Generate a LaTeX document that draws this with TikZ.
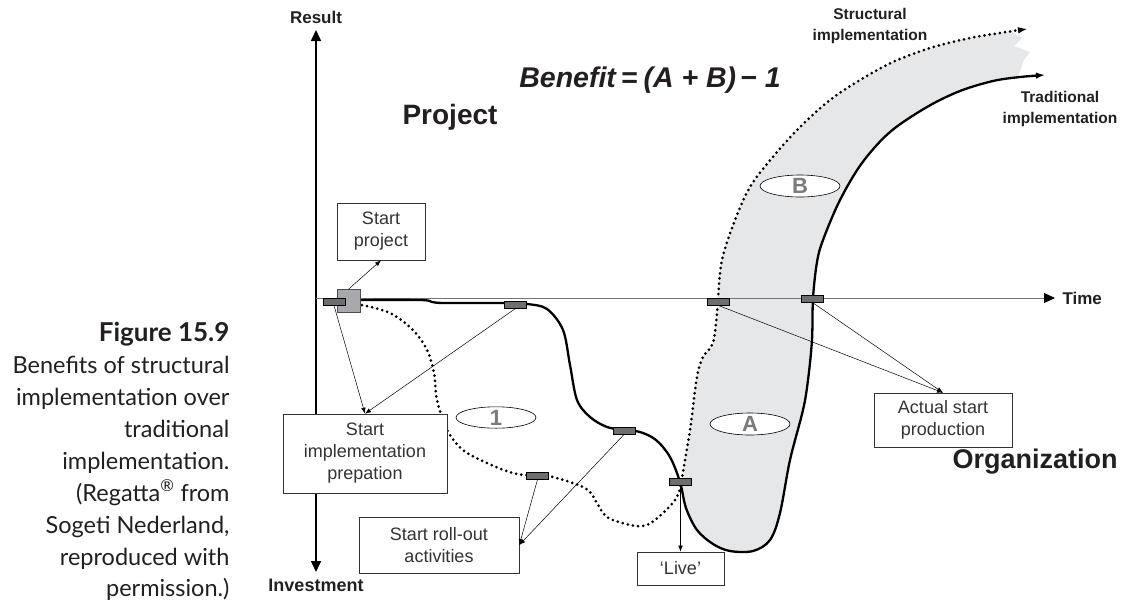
\documentclass[tikz,border=0pt]{standalone}
\usepackage{fontspec}
\setmainfont{Liberation Sans}
\newfontfamily\capfont{Lato}
\usetikzlibrary{arrows.meta,shapes.geometric}
\definecolor{txt}{HTML}{231F20}
\definecolor{boxtxt}{HTML}{333333}
\definecolor{region}{HTML}{E6E7E9}
\definecolor{mark}{HTML}{6D6E70}
\definecolor{sqgray}{HTML}{A7A9AC}
\definecolor{elltxt}{HTML}{7A7A7A}
\tikzset{
  stepbox/.style={draw=black!80, line width=0.6pt, fill=white, align=center, text=boxtxt,
    font=\fontsize{18}{22}\selectfont, inner sep=0pt},
  marker/.style={draw=black, line width=0.5pt, fill=mark, minimum width=22pt, minimum height=7.5pt, inner sep=0pt},
  conn/.style={line width=0.5pt, black, -{Latex[length=6pt,width=4.5pt]}},
  tradline/.style={line width=2.3pt, black, line cap=round},
  structline/.style={line width=3pt, black, line cap=round, dash pattern=on 0pt off 5.2pt},
  ell/.style={draw=black, line width=0.6pt, fill=white, ellipse, minimum width=80pt, minimum height=21pt, inner sep=0pt,
    text=elltxt, font=\fontsize{22}{22}\selectfont\bfseries},
  axlabel/.style={font=\fontsize{17}{17}\selectfont\bfseries, text=txt},
  biglabel/.style={font=\fontsize{28}{28}\selectfont\bfseries, text=txt},
  curvelabel/.style={font=\fontsize{15.5}{21}\selectfont\bfseries, text=txt, align=center},
  caption/.style={font=\capfont\fontsize{23.5}{23.5}\selectfont, text=txt, anchor=base east}
}
\begin{document}
\begin{tikzpicture}[x=1pt,y=-1pt]
\useasboundingbox (0,0) rectangle (1125,600);

% shaded benefit region
\fill[region] (681,482) -- plot[smooth, tension=0.55] coordinates {(682,477) (690,430) (697,377) (703,357) (713,343) (717,313) (718,298) (722,260) (735,220) (750,187) (772,158) (800,127) (830,100) (860,80) (893,62) (930,48) (970,38) (1000,33) (1012,32)}
  -- (1022,38) -- (1014,46) -- (1030,52) -- (1024,60) -- (1018,77)
  -- plot[smooth, tension=0.55] coordinates {(1018,77) (993,81) (960,91) (927,107) (890,132) (862,163) (840,200) (823,240) (817,262) (813,298) (812,340) (808,380) (803,410) (790,460) (780,513) (770,540) (753,551) (730,551) (713,544) (697,530) (686,508) (681,482)} -- cycle;

% axes
\coordinate (ybot) at (316,572);
\coordinate (ytop) at (316,30);
\coordinate (xorg) at (316,298);
\coordinate (xend) at (1055,298);
\draw[line width=1.6pt, black, {Triangle[length=11pt,width=10pt]}-{Triangle[length=11pt,width=10pt]}] (ybot) -- (ytop);
\draw[line width=0.9pt, black!55, -{Triangle[length=11pt,width=10pt,color=black]}] (xorg) -- (xend);

\node[axlabel] (result) at (316,17) {Result};
\node[axlabel, font=\fontsize{18}{18}\selectfont\bfseries] (invest) at (316,585) {Investment};
\node[axlabel, anchor=west] (time) at (1059,298) {Time};

% traditional implementation curve
\draw[tradline, -{Latex[length=9pt,width=6.5pt]}] plot[smooth, tension=0.55] coordinates {(345,300) (420,300) (432,302) (445,303) (504,303) (527,304) (547,309) (563,330) (570,365) (577,400) (590,417) (607,427) (624,430) (640,432) (656,440) (670,457) (680,482) (686,508) (697,530) (713,544) (730,551) (753,551) (770,540) (780,513) (790,460) (803,410) (808,380) (812,340) (813,298) (817,262) (823,240) (840,200) (862,163) (890,132) (927,107) (960,91) (993,81) (1020,77) (1045,75)};

% structural implementation curve
\draw[structline] plot[smooth, tension=0.55] coordinates {(362,305) (390,313) (413,330) (427,350) (434,373) (437,400) (447,430) (463,450) (487,463) (513,473) (537,476) (548,476) (570,482) (588,490) (597,503) (607,517) (630,525) (647,525) (663,513) (677,497) (682,477) (690,430) (697,377) (703,357) (713,343) (717,313) (718,298) (722,260) (735,220) (750,187) (772,158) (800,127) (830,100) (860,80) (893,62) (930,48) (970,38) (1000,33) (1020,30)};
\coordinate (stA) at (1018,30.3);
\coordinate (stB) at (1027,29);
\draw[line width=1pt, -{Latex[length=9pt,width=6.5pt]}] (stA) -- (stB);

% labels
\node[biglabel] (project) at (450,117) {Project};
\node[biglabel, font=\fontsize{27}{27}\selectfont\bfseries] (org) at (1035,462) {Organization};
\node[biglabel, font=\fontsize{28.5}{28.5}\selectfont\bfseries\itshape] (formula) at (650,80) {Benefit\hspace{5pt}=\hspace{6pt}(A + B)\hspace{4pt}−\hspace{8pt}1};
\node[curvelabel] (slabel) at (870,26) {Structural\\implementation};
\node[curvelabel] (tlabel) at (1060,109) {Traditional\\implementation};

% ellipses
\node[ell] (e1) at (496,417.5) {1};
\node[ell, minimum height=22pt] (eA) at (750,424) {A};
\node[ell, minimum height=22pt] (eB) at (800,186) {B};

% start markers
\node[draw=black!70, line width=0.5pt, fill=sqgray, minimum width=23pt, minimum height=23pt, inner sep=0pt] (sq) at (348.5,301) {};
\node[marker] (m0) at (334,301.5) {};
\node[marker] (m1) at (515.5,304.5) {};
\node[marker] (m2) at (624,430.5) {};
\node[marker] (m3) at (537.5,475.5) {};
\node[marker] (m4) at (680.5,481.5) {};
\node[marker] (m5) at (718.5,301.5) {};
\node[marker] (m6) at (812.5,298.5) {};

% boxes
\node[stepbox, minimum width=88pt, minimum height=57pt] (sp) at (381,231.5) {Start\\project};
\node[stepbox, minimum width=164pt, minimum height=79pt] (sip) at (365,453.5) {Start\\implementation\\prepation};
\node[stepbox, minimum width=160pt, minimum height=56pt] (sro) at (439,545) {Start roll-out\\activities};
\node[stepbox, minimum width=87pt, minimum height=33pt] (live) at (680.5,568.5) {‘Live’};
\node[stepbox, minimum width=138pt, minimum height=54pt] (asp) at (943,420) {Actual start\\production};

% connectors
\draw[conn] (sq.north) -- (sp.south);
\draw[conn] (m0.south) -- (sip.north);
\draw[conn] (m1.south) -- (sip.north);
\draw[conn] (m3.south) -- (sro.east);
\draw[conn] (m2.south) -- (sro.east);
\draw[conn] (m4.south) -- (live.north);
\draw[conn] (m5.south) -- (asp.north);
\draw[conn] (m6.south) -- (asp.north);

% caption
\node[caption, font=\capfont\fontsize{26}{26}\selectfont\bfseries] (cap0) at (233,341) {Figure 15.9};
\node[caption] (cap1) at (233,373) {Benefits of structural};
\node[caption] (cap2) at (233,405) {implementation over};
\node[caption] (cap3) at (233,437) {traditional};
\node[caption] (cap4) at (233,469) {implementation.};
\node[caption] (cap5) at (233,501) {(Regatta\textsuperscript{®} from};
\node[caption] (cap6) at (233,533) {Sogeti Nederland,};
\node[caption] (cap7) at (233,565) {reproduced with};
\node[caption] (cap8) at (233,596) {permission.)};
\end{tikzpicture}
\end{document}
